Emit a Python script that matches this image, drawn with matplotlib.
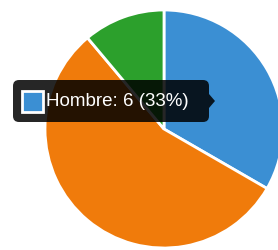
import matplotlib.pyplot as plt
from matplotlib.patches import FancyBboxPatch, Polygon, Rectangle

labels = ["Hombre", "Mujer", "Otro"]
values = [6, 10, 2]
colors = ["#3b8fd3", "#f07b0b", "#2ca02c"]

fig = plt.figure(figsize=(2.78, 2.5), dpi=100)
ax = fig.add_axes([0, 0, 1, 1])

ax.pie(values, colors=colors, startangle=90, counterclock=False,
       center=(164, 121), radius=119,
       wedgeprops=dict(edgecolor="white", linewidth=2))
ax.set_xlim(0, 278)
ax.set_ylim(0, 250)
ax.set_aspect("equal")
ax.axis("off")

# tooltip for the first slice
total = sum(values)
pct = round(values[0] / total * 100)
tip = FancyBboxPatch((13, 128), 196, 42, boxstyle="round,pad=0,rounding_size=6",
                     facecolor="black", alpha=0.85, edgecolor="none", zorder=5)
ax.add_patch(tip)
ax.add_patch(Polygon([[209, 142], [215, 149], [209, 156]], closed=True,
                     facecolor="black", alpha=0.85, edgecolor="none", zorder=5))
ax.add_patch(Rectangle((22, 138), 21, 21, facecolor=colors[0],
                       edgecolor="white", linewidth=2, zorder=6))
ax.text(46, 149, f"{labels[0]}: {values[0]} ({pct}%)", color="white",
        family="Liberation Sans", fontsize=13.5, va="center", ha="left", zorder=7)

plt.savefig("out.png", dpi=100)
